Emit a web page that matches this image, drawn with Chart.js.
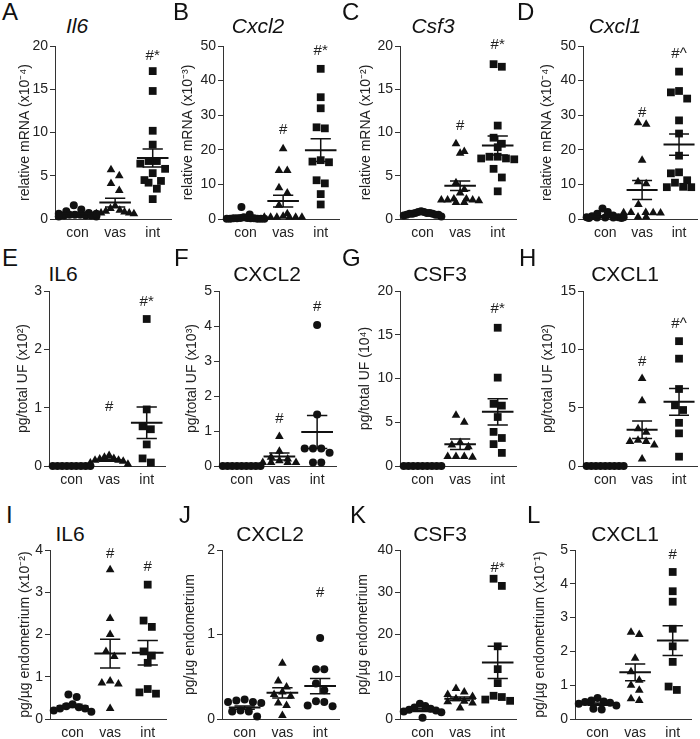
<!DOCTYPE html>
<html>
<head>
<meta charset="utf-8">
<script src="https://cdn.jsdelivr.net/npm/chart.js@4.4.1/dist/chart.umd.min.js"></script>
<style>
body { margin: 0; background: #fff; font-family: "Liberation Sans", Arial, sans-serif; }
#fig { position: relative; width: 700px; height: 739px; overflow: hidden; }
#fig canvas { position: absolute; }
.letter { position: absolute; font-size: 24px; line-height: 1; color: #111; }
.ttl { position: absolute; font-size: 21px; line-height: 1; color: #111; transform: translate(-50%, -50%); white-space: nowrap; }
</style>
</head>
<body>
<div id="fig"></div>
<script>
const groups = ['con', 'vas', 'int'];

// A - Il6 mRNA
const aValues = [[1.6, 1.1, 0.9, 0.7, 0.6, 0.5, 0.5, 0.4, 0.4, 0.3, 0.3, 0.4, 0.5, 0.6],
                 [5.7, 5.0, 4.1, 3.3, 1.5, 1.2, 1.0, 0.9, 0.8, 0.7, 0.7, 0.6, 0.6],
                 [17.1, 14.8, 10.2, 8.6, 6.7, 6.7, 6.4, 5.8, 5.3, 4.4, 4.2, 4.5, 3.5, 2.3]];
const aMeans = [0.6, 1.9, 7.05];
const aSems = [0.1, 0.5, 1.05];
const aMarks = ['', '', '#*'];
const aMarkY = [null, null, 18.9];
const aTicks = [0, 5, 10, 15, 20];

// B - Cxcl2 mRNA
const bValues = [[3.5, 1.3, 0.5, 0.3, 0.2, 0.2, 0.1, 0.1, 0.1, 0.1, 0.2, 0.3, 0.2, 0.1],
                 [20.3, 14.0, 14.0, 9.0, 7.5, 4.0, 1.5, 0.8, 0.5, 0.5, 0.5, 0.5, 0.5, 0.5],
                 [43.4, 35.2, 32.0, 26.5, 26.2, 17.0, 16.6, 16.4, 11.2, 10.3, 7.2, 4.2]];
const bMeans = [0.4, 5.2, 19.9];
const bSems = [0.25, 1.7, 3.3];
const bMarks = ['', '#', '#*'];
const bMarkY = [null, 25.9, 48.7];
const bTicks = [0, 10, 20, 30, 40, 50];

// C - Csf3 mRNA
const cValues = [[0.8, 0.7, 0.9, 0.6, 0.5, 0.6, 0.7, 0.8, 0.4, 0.5, 0.3, 0.6, 0.7, 0.5],
                 [8.7, 7.8, 7.6, 4.2, 3.4, 3.0, 2.3, 2.3, 2.2, 2.2, 2.2, 2.1, 1.9, 1.9],
                 [17.9, 17.6, 10.8, 9.4, 8.7, 8.3, 7.2, 7.2, 7.0, 7.0, 6.9, 5.8, 4.8, 3.2]];
const cMeans = [0.6, 3.85, 8.5];
const cSems = [0.05, 0.55, 1.1];
const cMarks = ['', '#', '#*'];
const cMarkY = [null, 10.8, 20.1];
const cTicks = [0, 5, 10, 15, 20];

// D - Cxcl1 mRNA
const dValues = [[3.0, 2.0, 1.5, 1.0, 0.8, 0.5, 0.5, 0.4, 0.4, 0.3, 0.3, 0.5, 0.4],
                 [27.8, 27.4, 17.0, 10.8, 10.2, 4.2, 1.9, 1.9, 1.8, 1.8, 1.7, 0.6, 0.6],
                 [42.6, 37.0, 36.6, 34.8, 28.5, 24.7, 18.3, 13.5, 13.2, 11.2, 10.5, 9.3, 9.2, 9.2]];
const dMeans = [0.7, 8.4, 21.5];
const dSems = [0.25, 2.75, 3.1];
const dMarks = ['', '#', '#^'];
const dMarkY = [null, 30.8, 47.8];
const dTicks = [0, 10, 20, 30, 40, 50];

// E - IL6 protein, uterine fluid
const eValues = [[0, 0, 0, 0, 0, 0, 0, 0, 0],
                 [0.18, 0.15, 0.13, 0.12, 0.10, 0.10, 0.08, 0.05, 0.03],
                 [2.52, 0.97, 0.68, 0.63, 0.37, 0.13, 0.06]];
const eMeans = [0, 0.1, 0.74];
const eSems = [0, 0.02, 0.27];
const eMarks = ['', '#', '#*'];
const eMarkY = [null, 1.02, 2.81];
const eTicks = [0, 1, 2, 3];

// F - CXCL2 protein, uterine fluid
const fValues = [[0, 0, 0, 0, 0, 0, 0, 0, 0],
                 [0.84, 0.42, 0.25, 0.2, 0.15, 0.1, 0.1, 0.1, 0.1],
                 [4.03, 1.47, 0.50, 0.50, 0.50, 0.38, 0.10, 0.10]];
const fMeans = [0, 0.27, 0.97];
const fSems = [0, 0.1, 0.47];
const fMarks = ['', '#', '#'];
const fMarkY = [null, 1.35, 4.54];
const fTicks = [0, 1, 2, 3, 4, 5];

// G - CSF3 protein, uterine fluid
const gValues = [[0, 0, 0, 0, 0, 0, 0, 0, 0],
                 [5.8, 5.0, 2.7, 2.4, 2.2, 1.1, 1.1, 1.1, 1.0],
                 [15.8, 10.1, 7.1, 6.9, 5.6, 3.9, 3.2, 2.5, 1.5]];
const gMeans = [0, 2.5, 6.2];
const gSems = [0, 0.6, 1.5];
const gMarks = ['', '', '#*'];
const gMarkY = [null, null, 18];
const gTicks = [0, 5, 10, 15, 20];

// H - CXCL1 protein, uterine fluid
const hValues = [[0, 0, 0, 0, 0, 0, 0, 0, 0],
                 [7.5, 5.6, 3.2, 2.9, 2.2, 2.1, 2.1, 1.8, 0.6],
                 [10.7, 9.2, 6.6, 5.2, 4.8, 3.7, 2.8, 0.8]];
const hMeans = [0, 3.1, 5.5];
const hSems = [0, 0.75, 1.15];
const hMarks = ['', '#', '#^'];
const hMarkY = [null, 8.9, 12.2];
const hTicks = [0, 5, 10, 15];

// I - IL6 protein, endometrium
const iValues = [[0.58, 0.52, 0.35, 0.30, 0.28, 0.25, 0.25, 0.2, 0.17],
                 [3.53, 2.38, 2.0, 1.6, 1.48, 0.9, 0.85, 0.83, 0.25],
                 [3.18, 2.33, 2.18, 1.6, 1.5, 1.33, 0.71, 0.63, 0.6]];
const iMeans = [0.31, 1.55, 1.57];
const iSems = [0.04, 0.34, 0.29];
const iMarks = ['', '#', '#'];
const iMarkY = [null, 3.9, 3.6];
const iTicks = [0, 1, 2, 3, 4];

// J - CXCL2 protein, endometrium
const jValues = [[0.23, 0.22, 0.2, 0.2, 0.19, 0.1, 0.09, 0.09, 0.03],
                 [0.66, 0.45, 0.38, 0.32, 0.29, 0.27, 0.19, 0.16, 0.04],
                 [0.96, 0.59, 0.59, 0.42, 0.34, 0.21, 0.2, 0.16, 0.15]];
const jMeans = [0.135, 0.31, 0.39];
const jSems = [0.02, 0.06, 0.09];
const jMarks = ['', '', '#'];
const jMarkY = [null, null, 1.49];
const jTicks = [0, 1, 2];

// K - CSF3 protein, endometrium
const kValues = [[3.6, 3.1, 2.7, 2.4, 2.2, 2.0, 1.8, 1.6, 0.3],
                 [7.2, 6.4, 5.8, 5.3, 4.8, 4.2, 4.1, 3.8, 2.6],
                 [33.2, 31.5, 17.2, 11.8, 8.5, 5.5, 5.2, 4.6, 4.3]];
const kMeans = [2.1, 4.8, 13.4];
const kSems = [0.3, 0.4, 3.8];
const kMarks = ['', '', '#*'];
const kMarkY = [null, null, 35.7];
const kTicks = [0, 10, 20, 30, 40];

// L - CXCL1 protein, endometrium
const lValues = [[0.62, 0.55, 0.52, 0.5, 0.48, 0.45, 0.4, 0.3, 0.28],
                 [2.57, 2.5, 1.8, 1.4, 1.15, 1.0, 0.85, 0.6, 0.55],
                 [4.35, 3.78, 3.47, 2.67, 2.15, 1.69, 0.96, 0.86]];
const lMeans = [0.44, 1.38, 2.32];
const lSems = [0.03, 0.25, 0.44];
const lMarks = ['', '', '#'];
const lMarkY = [null, null, 4.87];
const lTicks = [0, 1, 2, 3, 4, 5];

const mrna = 'relative mRNA';
const uf = 'pg/total UF';
const endo = 'pg/\u00b5g endometrium';

const panels = [
  { letter: 'A', title: 'Il6', italic: true, yLabel: mrna + ' (x10\u207b\u2074)', values: aValues, means: aMeans, sems: aSems, marks: aMarks, markY: aMarkY, ticks: aTicks, intShape: 'rect', col: 0, row: 0, axisX: 55, yTitleX: 25, titleX: 77, letterX: 2 },
  { letter: 'B', title: 'Cxcl2', italic: true, yLabel: mrna + ' (x10\u207b\u00b3)', values: bValues, means: bMeans, sems: bSems, marks: bMarks, markY: bMarkY, ticks: bTicks, intShape: 'rect', col: 1, row: 0, axisX: 223, yTitleX: 188, titleX: 258, letterX: 173 },
  { letter: 'C', title: 'Csf3', italic: true, yLabel: mrna + ' (x10\u207b\u00b2)', values: cValues, means: cMeans, sems: cSems, marks: cMarks, markY: cMarkY, ticks: cTicks, intShape: 'rect', col: 2, row: 0, axisX: 400, yTitleX: 366, titleX: 433, letterX: 342 },
  { letter: 'D', title: 'Cxcl1', italic: true, yLabel: mrna + ' (x10\u207b\u2074)', values: dValues, means: dMeans, sems: dSems, marks: dMarks, markY: dMarkY, ticks: dTicks, intShape: 'rect', col: 3, row: 0, axisX: 583, yTitleX: 547, titleX: 615, letterX: 517 },
  { letter: 'E', title: 'IL6', italic: false, yLabel: uf + ' (x10\u00b2)', values: eValues, means: eMeans, sems: eSems, marks: eMarks, markY: eMarkY, ticks: eTicks, intShape: 'rect', col: 0, row: 1, axisX: 49, yTitleX: 23, titleX: 63, letterX: 2 },
  { letter: 'F', title: 'CXCL2', italic: false, yLabel: uf + ' (x10\u00b3)', values: fValues, means: fMeans, sems: fSems, marks: fMarks, markY: fMarkY, ticks: fTicks, intShape: 'circle', col: 1, row: 1, axisX: 219, yTitleX: 192, titleX: 267, letterX: 174 },
  { letter: 'G', title: 'CSF3', italic: false, yLabel: uf + ' (10\u2074)', values: gValues, means: gMeans, sems: gSems, marks: gMarks, markY: gMarkY, ticks: gTicks, intShape: 'rect', col: 2, row: 1, axisX: 400, yTitleX: 365, titleX: 440, letterX: 342 },
  { letter: 'H', title: 'CXCL1', italic: false, yLabel: uf + ' (x10\u00b2)', values: hValues, means: hMeans, sems: hSems, marks: hMarks, markY: hMarkY, ticks: hTicks, intShape: 'rect', col: 3, row: 1, axisX: 583, yTitleX: 548, titleX: 625, letterX: 519 },
  { letter: 'I', title: 'IL6', italic: false, yLabel: endo + ' (x10\u207b\u00b2)', values: iValues, means: iMeans, sems: iSems, marks: iMarks, markY: iMarkY, ticks: iTicks, intShape: 'rect', col: 0, row: 2, axisX: 50, yTitleX: 25, titleX: 70, letterX: 6 },
  { letter: 'J', title: 'CXCL2', italic: false, yLabel: endo, values: jValues, means: jMeans, sems: jSems, marks: jMarks, markY: jMarkY, ticks: jTicks, intShape: 'circle', col: 1, row: 2, axisX: 222, yTitleX: 190, titleX: 270, letterX: 179 },
  { letter: 'K', title: 'CSF3', italic: false, yLabel: endo, values: kValues, means: kMeans, sems: kSems, marks: kMarks, markY: kMarkY, ticks: kTicks, intShape: 'rect', col: 2, row: 2, axisX: 400, yTitleX: 363, titleX: 440, letterX: 350 },
  { letter: 'L', title: 'CXCL1', italic: false, yLabel: endo + ' (x10\u207b\u00b9)', values: lValues, means: lMeans, sems: lSems, marks: lMarks, markY: lMarkY, ticks: lTicks, intShape: 'rect', col: 3, row: 2, axisX: 575, yTitleX: 540, titleX: 625, letterX: 527 }
];

const rows = [
  { top: 0, plotTop: 46, plotBottom: 219, titleY: 25, letterY: 0 },
  { top: 245, plotTop: 291, plotBottom: 466, titleY: 273, letterY: 246 },
  { top: 490, plotTop: 550, plotBottom: 719, titleY: 533, letterY: 503 }
];
const colLeft = [0, 170, 340, 515];

Chart.defaults.font.family = '"Liberation Sans", Arial, sans-serif';
Chart.defaults.color = '#222';

// spread points that sit close together, like a scatter dot plot
function swarm(vals, range) {
  const thr = range * 0.05;
  const order = vals.map((v, i) => i).sort((a, b) => vals[b] - vals[a]);
  const off = new Array(vals.length).fill(0);
  let cl = [];
  const flush = () => {
    const m = cl.length;
    const step = m > 1 ? Math.min(0.22, 1.0 / (m - 1)) : 0;
    const slots = cl.map((_, j) => (j - (m - 1) / 2) * step);
    slots.sort((a, b) => Math.abs(a) - Math.abs(b));
    cl.forEach((idx, j) => { off[idx] = slots[j]; });
    cl = [];
  };
  order.forEach(i => {
    if (cl.length && vals[cl[0]] - vals[i] > thr) flush();
    cl.push(i);
  });
  flush();
  return off;
}

const markPlugin = {
  id: 'marks',
  afterDatasetsDraw(chart) {
    const p = chart.options.plugins.marks;
    const ctx = chart.ctx;
    ctx.save();
    ctx.font = '15px "Liberation Sans", Arial, sans-serif';
    ctx.fillStyle = '#222';
    ctx.textAlign = 'center';
    ctx.textBaseline = 'middle';
    p.marks.forEach((t, g) => {
      if (!t) return;
      ctx.fillText(t, chart.scales.x.getPixelForValue(g), chart.scales.y.getPixelForValue(p.markY[g]));
    });
    ctx.restore();
  }
};

const fig = document.getElementById('fig');

panels.forEach(p => {
  const r = rows[p.row];
  const left = colLeft[p.col];
  const plotRight = Math.min(p.axisX + 118, 699);
  const w = plotRight + 4 - left;
  const h = r.plotBottom + 24 - r.top;

  const letter = document.createElement('div');
  letter.className = 'letter';
  letter.textContent = p.letter;
  letter.style.left = p.letterX + 'px';
  letter.style.top = r.letterY + 'px';
  fig.appendChild(letter);

  const ttl = document.createElement('div');
  ttl.className = 'ttl';
  ttl.textContent = p.title;
  ttl.style.left = p.titleX + 'px';
  ttl.style.top = r.titleY + 'px';
  if (p.italic) ttl.style.fontStyle = 'italic';
  fig.appendChild(ttl);

  const canvas = document.createElement('canvas');
  canvas.style.left = left + 'px';
  canvas.style.top = r.top + 'px';
  canvas.style.width = w + 'px';
  canvas.style.height = h + 'px';
  canvas.width = w;
  canvas.height = h;
  fig.appendChild(canvas);

  const yMax = p.ticks[p.ticks.length - 1];
  const shapes = ['circle', 'triangle', p.intShape];
  const pointSets = p.values.map((vals, g) => {
    const off = swarm(vals, yMax);
    return {
      type: 'scatter',
      data: vals.map((v, i) => ({ x: g + off[i], y: v })),
      pointStyle: shapes[g],
      pointRadius: shapes[g] === 'rect' ? 5.5 : (shapes[g] === 'triangle' ? 5 : 4),
      backgroundColor: '#111',
      borderColor: '#111',
      borderWidth: 0,
      clip: false,
      order: 2
    };
  });

  const meanLine = [];
  const semLine = [];
  p.means.forEach((m, g) => {
    const s = p.sems[g];
    meanLine.push({ x: g - 0.42, y: m }, { x: g + 0.42, y: m }, { x: g, y: null });
    semLine.push({ x: g - 0.27, y: m + s }, { x: g + 0.27, y: m + s }, { x: g, y: null });
    semLine.push({ x: g, y: m - s }, { x: g, y: m + s }, { x: g, y: null });
    semLine.push({ x: g - 0.27, y: m - s }, { x: g + 0.27, y: m - s }, { x: g, y: null });
  });

  new Chart(canvas.getContext('2d'), {
    type: 'scatter',
    data: {
      datasets: [
        { type: 'line', data: meanLine, borderColor: '#111', borderWidth: 2, pointRadius: 0, spanGaps: false, clip: false, order: 0 },
        { type: 'line', data: semLine, borderColor: '#111', borderWidth: 1.5, pointRadius: 0, spanGaps: false, clip: false, order: 1 },
        ...pointSets
      ]
    },
    options: {
      responsive: false,
      animation: false,
      events: [],
      layout: { padding: { top: r.plotTop - r.top, bottom: 0, left: 0, right: 4 } },
      plugins: {
        legend: { display: false },
        tooltip: { enabled: false },
        marks: { marks: p.marks, markY: p.markY }
      },
      scales: {
        x: {
          type: 'linear',
          min: -0.6,
          max: 2.5,
          afterBuildTicks: s => { s.ticks = groups.map((_, i) => ({ value: i })); },
          afterFit: s => { s.height = 24; },
          ticks: { callback: v => groups[v], font: { size: 14 }, padding: 2, maxRotation: 0, autoSkip: false },
          grid: { display: false, tickLength: 4 },
          border: { display: true, color: '#333', width: 1 }
        },
        y: {
          min: 0,
          max: yMax,
          afterBuildTicks: s => { s.ticks = p.ticks.map(v => ({ value: v })); },
          afterFit: s => { s.width = p.axisX - left; },
          ticks: { font: { size: 14 }, padding: 2 },
          grid: { drawOnChartArea: false, tickLength: 5, color: '#333' },
          border: { display: true, color: '#333', width: 1 },
          title: { display: true, text: p.yLabel, font: { size: 14 }, padding: { top: p.yTitleX - left - 8.4, bottom: 0 } }
        }
      }
    },
    plugins: [markPlugin]
  });
});
</script>
</body>
</html>
